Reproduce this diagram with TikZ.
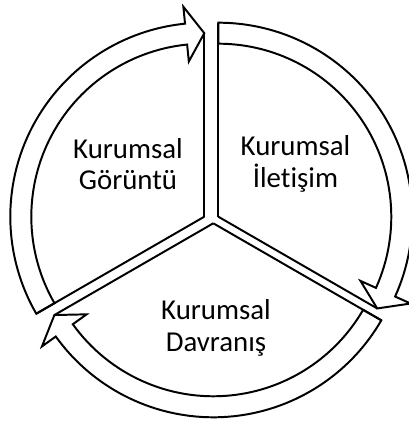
\documentclass[tikz,border=0pt]{standalone}
\usepackage{fontspec}
\setmainfont[Ligatures=NoCommon]{Carlito}
\usetikzlibrary{calc}

\begin{document}
\begin{tikzpicture}[scale=0.025,line width=1.4pt,line join=miter,
  lbl/.style={align=center,inner sep=0pt,font=\fontsize{20.5}{22.4}\selectfont}]
\useasboundingbox (0,0) rectangle (408,421);
% radii: inner, outer, arrow middle
\def\ri{173}\def\ro{194}\def\rm{183.5}
% sectors: centre x/y, tail angle, head angle
\foreach \cx/\cy/\ta/\ha in {204.3/204.3/210/90, 218.3/204.3/90/-30, 213.3/197.7/-30/-150}{
  \begin{scope}[shift={(\cx,\cy)}]
  \draw (0,0) -- (\ta:\ro);
  \draw (0,0) -- (\ha:\rm);
  \draw (\ta:\ri) -- (\ta:\ro) arc[start angle=\ta,end angle=\ha+5.7,radius=\ro]
    -- ({\ha+5.7}:{\ro+17}) -- (\ha:\rm) -- ({\ha+5.7}:{\ri-17}) -- ({\ha+5.7}:\ri)
    arc[start angle=\ha+5.7,end angle=\ta,radius=\ri] -- cycle;
  \end{scope}
}
% labels
\node[lbl] (goruntu) at (128,257) {Kurumsal\\Görüntü};
\node[lbl] (iletisim) at (295.5,257) {Kurumsal\\İletişim};
\node[lbl] (davranis) at (216,93) {Kurumsal\\Davranış};
\end{tikzpicture}
\end{document}
